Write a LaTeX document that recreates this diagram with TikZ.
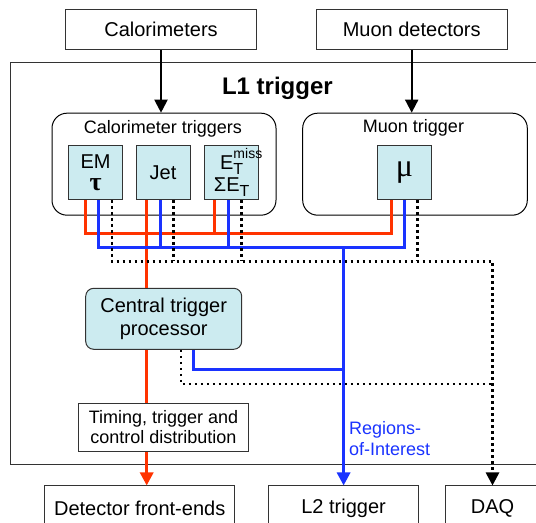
\documentclass[tikz,border=0pt]{standalone}
\usepackage{fontspec}
\setmainfont{Liberation Sans}
\newfontfamily\greekfont{Liberation Serif}
\usetikzlibrary{arrows.meta, positioning}
\definecolor{trigred}{RGB}{255,51,0}
\definecolor{trigblue}{RGB}{26,51,255}
\definecolor{trigcyan}{RGB}{204,235,240}
\newcommand{\subT}{\raisebox{-0.45ex}{\fontsize{8}{8}\selectfont T}}
\newcommand{\supmiss}{\rlap{\raisebox{1.05ex}{\fontsize{7}{7}\selectfont miss}}}

\begin{document}
\begin{tikzpicture}[x=0.5pt, y=-0.5pt,
    plainbox/.style={draw=black!80, line width=0.5pt, rectangle, inner sep=0pt, minimum height=20.3pt, font=\fontsize{10}{12}\selectfont},
    groupbox/.style={draw=black, line width=0.5pt, rounded corners=7.5pt, inner sep=0pt, minimum width=112pt, minimum height=51pt},
    trigbox/.style={draw=black!80, line width=0.5pt, fill=trigcyan, inner sep=0pt, minimum width=27pt, minimum height=27pt, align=center, font=\fontsize{10}{10}\selectfont},
    procbox/.style={draw=black!80, line width=0.5pt, fill=trigcyan, rounded corners=4pt, inner sep=0pt, align=center},
    tiphead/.style={-{Triangle[length=6.5pt,width=6.5pt]}},
    arrowline/.style={tiphead, line width=1pt, black},
    redline/.style={line width=1.5pt, trigred},
    blueline/.style={line width=1.5pt, trigblue},
    dotline/.style={line width=1.3pt, black, dash pattern=on 1.3pt off 1.7pt}
]
    \useasboundingbox (0,0) rectangle (536,523);
    \clip (0,0) rectangle (536,523);

    % Nodes
    \node (calo) [plainbox, minimum width=95.8pt] at (161,29.7) {Calorimeters};
    \node (muondet) [plainbox, minimum width=95.6pt] at (411.7,29.7) {Muon detectors};
    \node (l1) [draw=black!80, line width=0.5pt, minimum width=274.75pt, minimum height=200.75pt] at (285.25,263.75) {};
    \node (l1label) [font=\bfseries\fontsize{12}{14}\selectfont] at (277.4,88) {L1 trigger};

    \node (calotrig) [groupbox] at (164,164.2) {};
    \node (calolabel) [font=\fontsize{9}{11}\selectfont] at (163,128.8) {Calorimeter triggers};
    \node (muontrig) [groupbox, minimum width=112.3pt] at (415,164.2) {};
    \node (muonlabel) [font=\fontsize{9}{11}\selectfont] at (413.5,128) {Muon trigger};

    \node (em) [trigbox] at (95.5,172.5) {EM\\[1pt]{\greekfont\bfseries\fontsize{13}{13}\selectfont τ}};
    \node (jet) [trigbox] at (163,172.5) {Jet};
    \node (etmiss) [trigbox] at (231.7,172.5) {E\supmiss\subT\\[1pt]ΣE\subT};
    \node (mu) [trigbox] at (404.5,172.8) {{\greekfont\fontsize{16}{16}\selectfont μ}};

    \node (ctp) [procbox, minimum width=78pt, minimum height=30.5pt, font=\fontsize{10}{11.5}\selectfont] at (163.7,318.8) {Central trigger\\processor};
    \node (ttc) [plainbox, align=center, minimum width=84.8pt, minimum height=24pt, font=\fontsize{9}{10}\selectfont] at (163.5,427.3) {Timing, trigger and\\control distribution};
    \node (roi) [anchor=north west, align=left, inner sep=0pt, text=trigblue, font=\fontsize{9}{10.5}\selectfont] at (348.7,421.5) {Regions-\\of-Interest};

    \node (fe) [plainbox, minimum width=95.25pt, minimum height=22pt] at (139.7,508) {Detector front-ends};
    \node (ltwo) [plainbox, minimum width=74.9pt, minimum height=22pt] at (343.6,508) {L2 trigger};
    \node (daq) [plainbox, minimum width=47.5pt, minimum height=22pt] at (492.5,508) {DAQ};

    % Connections
    \draw[arrowline] (calo) -- (calo |- calotrig.north);
    \draw[arrowline] (muondet) -- (muondet |- muontrig.north);

    % trigger decision (red)
    \coordinate (jetred) at ([xshift=-8.15pt]jet.south);
    \draw[redline] ([xshift=-4.9pt]em.south) -- ++(0,33.8) -| ([xshift=-6.75pt]mu.south);
    \draw[redline] ([xshift=-8.7pt]etmiss.south) -- ++(0,34);
    \draw[redline] (jetred) -- (ctp.north -| jetred);
    \draw[redline] (ctp.south -| jetred) -- (ttc.north -| jetred);
    \draw[redline, tiphead] (ttc.south -| jetred) -- (fe.north -| jetred);

    % regions of interest (blue)
    \draw[blueline] ([xshift=1.6pt]em.south) -- ++(0,47.8) -| (mu.south);
    \draw[blueline] ([xshift=-1.5pt]jet.south) -- ++(0,48);
    \draw[blueline] ([xshift=-1.7pt]etmiss.south) -- ++(0,48);
    \draw[blueline] ([xshift=14.65pt]ctp.south) |- (ltwo.north |- 0,369.3);
    \draw[blueline, tiphead] (ltwo.north |- 0,247.3) -- (ltwo.north);

    % readout (dotted)
    \draw[dotline, tiphead] ([xshift=8.25pt]em.south) -- ++(0,61.4) -| (daq.north);
    \draw[dotline] ([xshift=5.15pt]jet.south) -- ++(0,61.4);
    \draw[dotline] ([xshift=5pt]etmiss.south) -- ++(0,61.4);
    \draw[dotline] ([xshift=6.6pt]mu.south) -- ++(0,60.9);
    \draw[dotline] ([xshift=8.65pt]ctp.south) |- (daq.north |- 0,384);
\end{tikzpicture}
\end{document}
